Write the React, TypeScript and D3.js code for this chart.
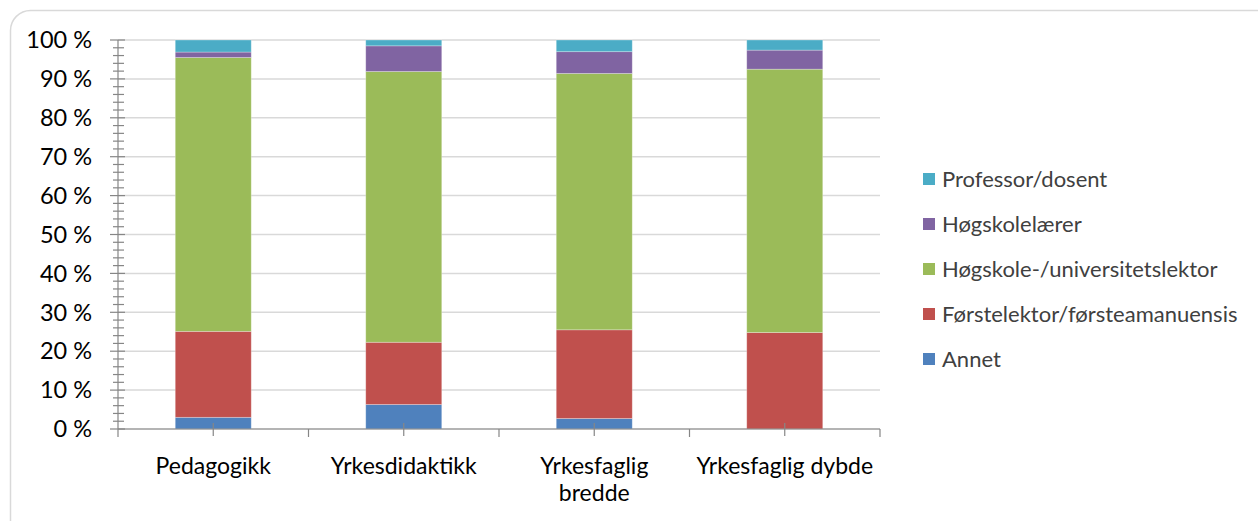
import React from "react";
import * as d3 from "d3";

const categories = ["Pedagogikk", "Yrkesdidaktikk", "Yrkesfaglig bredde", "Yrkesfaglig dybde"];
const categoryLines = [["Pedagogikk"], ["Yrkesdidaktikk"], ["Yrkesfaglig", "bredde"], ["Yrkesfaglig dybde"]];
const seriesNames = ["Annet", "Førstelektor/førsteamanuensis", "Høgskole-/universitetslektor", "Høgskolelærer", "Professor/dosent"];
const annet = [3.0, 6.3, 2.7, 0.0];
const forstelektor = [22.1, 16.0, 22.8, 24.8];
const hogskolelektor = [70.4, 69.6, 65.9, 67.7];
const hogskolelaerer = [1.4, 6.6, 5.6, 4.9];
const professor = [3.1, 1.5, 3.0, 2.6];
const seriesColors = ["#4F81BD", "#C0504D", "#9BBB59", "#8064A2", "#4BACC6"];
const yTicks = [0, 10, 20, 30, 40, 50, 60, 70, 80, 90, 100];

const W = 1258, H = 521;
const FONT = "Lato, 'Open Sans', sans-serif";

export default function App() {
  const seriesValues = [annet, forstelektor, hogskolelektor, hogskolelaerer, professor];
  const x = d3.scaleBand<string>().domain(categories).range([118, 880]).paddingInner(0.601).paddingOuter(0.3005);
  const y = d3.scaleLinear().domain([0, 100]).range([429, 40]);
  const step = x.step();

  const rows = categories.map((c, i) => {
    const r: any = { cat: c };
    seriesNames.forEach((s, j) => (r[s] = seriesValues[j][i]));
    return r;
  });
  const stacked = d3.stack<any>().keys(seriesNames).offset(d3.stackOffsetExpand)(rows);

  const minor = d3.range(0, 101, 2).filter((v) => v % 10 !== 0);
  const legendOrder = [...seriesNames.keys()].reverse();

  return (
    <svg width={W} height={H} style={{ position: "absolute", left: 0, top: 0, background: "#fff" }}>
      <rect x={10.5} y={10.5} width={1300} height={560} rx={20} fill="#fff" stroke="#d9d9d9" strokeWidth={1.5} />
      {yTicks.map((t) => (
        <line key={"g" + t} x1={118} x2={880} y1={y(t)} y2={y(t)} stroke="#d9d9d9" strokeWidth={1.5} />
      ))}
      {stacked.map((layer, j) => (
        <g key={layer.key} fill={seriesColors[j]}>
          {layer.map((d, i) => (
            <rect key={i} x={x(categories[i])} width={x.bandwidth()} y={y(d[1] * 100)} height={Math.max(0, y(d[0] * 100) - y(d[1] * 100))} stroke="#ffffff" strokeOpacity={0.35} strokeWidth={0.8} />
          ))}
        </g>
      ))}
      {/* y axis */}
      <line x1={118} x2={118} y1={40} y2={429} stroke="#868686" strokeWidth={1.2} />
      {yTicks.map((t) => (
        <line key={"yt" + t} x1={110} x2={125} y1={y(t)} y2={y(t)} stroke="#868686" strokeWidth={1.2} />
      ))}
      {minor.map((t) => (
        <line key={"ym" + t} x1={113} x2={124} y1={y(t)} y2={y(t)} stroke="#868686" strokeWidth={1.2} />
      ))}
      {yTicks.map((t) => (
        <text key={"yl" + t} x={92} y={y(t)} dy="0.35em" textAnchor="end" fontFamily={FONT} fontSize={23.5} fill="#000">{t} %</text>
      ))}
      {/* x axis */}
      <line x1={118} x2={880} y1={429} y2={429} stroke="#868686" strokeWidth={1.2} />
      {d3.range(categories.length + 1).map((i) => (
        <line key={"xb" + i} x1={118 + i * step} x2={118 + i * step} y1={429} y2={437} stroke="#868686" strokeWidth={1.2} />
      ))}
      {categories.map((c) => (
        <line key={"xc" + c} x1={x(c)! + x.bandwidth() / 2} x2={x(c)! + x.bandwidth() / 2} y1={423} y2={436} stroke="#868686" strokeWidth={1.2} />
      ))}
      {categories.map((c, i) => (
        <text key={"xl" + c} x={x(c)! + x.bandwidth() / 2} y={474} textAnchor="middle" fontFamily={FONT} fontSize={23} fill="#000">
          {categoryLines[i].map((l, k) => (
            <tspan key={k} x={x(c)! + x.bandwidth() / 2} dy={k === 0 ? 0 : 27}>{l}</tspan>
          ))}
        </text>
      ))}
      {/* legend */}
      {legendOrder.map((j, k) => {
        const cy = 179 + k * 45;
        return (
          <g key={"lg" + j}>
            <rect x={923} y={cy - 6} width={12} height={12} fill={seriesColors[j]} />
            <text x={942} y={cy} dy="0.35em" fontFamily={FONT} fontSize={22} fill="#404040">{seriesNames[j]}</text>
          </g>
        );
      })}
    </svg>
  );
}
